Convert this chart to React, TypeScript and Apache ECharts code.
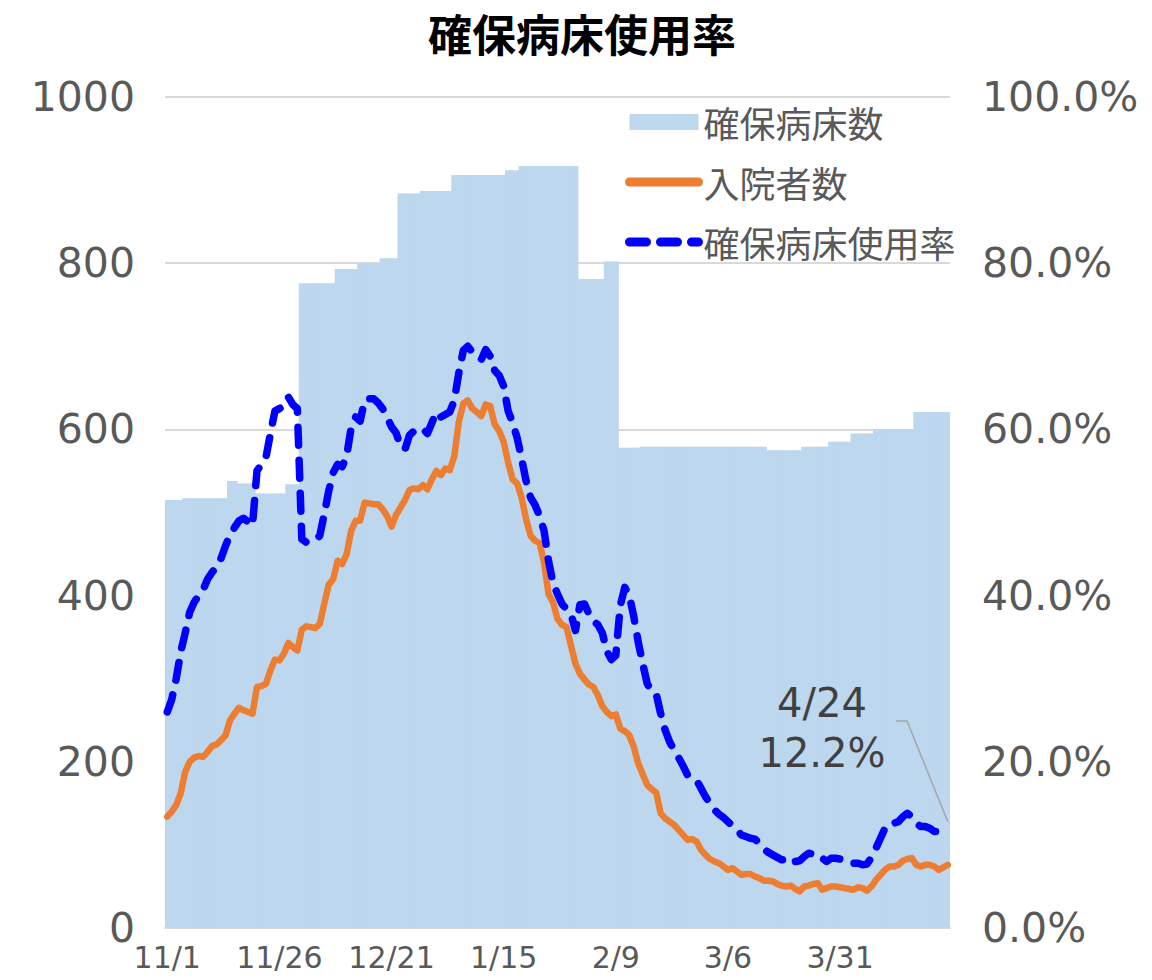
import React, { useEffect, useRef } from "react";
import * as echarts from "echarts";

// Day 0 = 2020-11-01 ; one value per day up to 4/24
const START_Y = 2020;
const START_M = 10; // November (0-based)
const START_D = 1;

const TITLE = "確保病床使用率";
const SERIES_NAMES = ["確保病床数", "入院者数", "確保病床使用率"];

// 確保病床数 (beds secured)
const beds = [
  515, 515, 515, 515, 517, 517, 517, 517, 517, 517,
  517, 517, 517, 517, 538, 538, 535, 535, 535, 535,
  523, 523, 523, 523, 523, 523, 523, 534, 534, 534,
  776, 776, 776, 776, 776, 776, 776, 776, 793, 793,
  793, 793, 793, 800, 800, 800, 800, 800, 806, 806,
  806, 806, 884, 884, 884, 884, 884, 887, 887, 887,
  887, 887, 887, 887, 906, 906, 906, 906, 906, 906,
  906, 906, 906, 906, 906, 906, 912, 912, 912, 917,
  917, 917, 917, 917, 917, 917, 917, 917, 917, 917,
  917, 917, 781, 781, 781, 781, 781, 781, 802, 802,
  802, 578, 578, 578, 578, 578, 579, 579, 579, 579,
  579, 579, 579, 579, 579, 579, 579, 579, 579, 579,
  579, 579, 579, 579, 579, 579, 579, 579, 579, 579,
  579, 579, 579, 579, 575, 575, 575, 575, 575, 575,
  575, 575, 579, 579, 579, 579, 579, 579, 585, 585,
  585, 585, 585, 595, 595, 595, 595, 595, 600, 600,
  600, 600, 600, 600, 600, 600, 600, 621, 621, 621,
  621, 621, 621, 621, 621,
];

// 入院者数 (inpatients)
const inpatients = [
  134, 140, 148, 162, 188, 200, 205, 207, 206, 212,
  219, 221, 226, 232, 250, 258, 265, 262, 260, 258,
  290, 291, 294, 310, 323, 322, 330, 343, 338, 334,
  359, 363, 362, 361, 366, 390, 413, 420, 442, 438,
  450, 478, 490, 490, 512, 511, 510, 510, 504, 496,
  483, 497, 506, 515, 527, 529, 528, 533, 528, 540,
  550, 545, 553, 551, 568, 609, 631, 635, 625, 621,
  616, 630, 628, 606, 598, 585, 560, 540, 535, 518,
  492, 472, 466, 463, 440, 402, 392, 372, 365, 362,
  340, 318, 306, 299, 293, 290, 280, 267, 260, 255,
  257, 240, 237, 232, 218, 198, 185, 172, 167, 163,
  138, 132, 128, 124, 118, 112, 106, 107, 104, 94,
  88, 83, 80, 78, 74, 70, 72, 68, 64, 65,
  65, 62, 60, 57, 57, 56, 53, 51, 50, 51,
  47, 44, 50, 51, 53, 54, 46, 48, 50, 50,
  49, 48, 47, 46, 49, 48, 45, 50, 58, 64,
  70, 74, 74, 76, 81, 83, 84, 76, 74, 76,
  76, 74, 70, 73, 76,
];

// 確保病床使用率 (%)
const usageRate = [
  26.0, 27.5, 30.0, 33.2, 35.5, 38.0, 39.2, 40.0, 40.7, 42.0,
  42.8, 43.5, 44.5, 46.0, 47.3, 48.2, 49.0, 49.3, 48.9, 48.4,
  55.0, 55.8, 56.6, 59.5, 62.2, 62.5, 62.8, 63.9, 63.0, 62.5,
  46.8, 46.4, 46.6, 46.7, 47.2, 49.8, 52.6, 54.8, 55.8, 55.5,
  56.8, 60.2, 61.5, 61.0, 63.5, 63.7, 63.7, 63.2, 62.5, 61.5,
  60.3, 59.6, 58.0, 57.6, 59.3, 59.8, 60.1, 60.1, 59.5, 60.8,
  62.1, 61.5, 61.8, 62.1, 63.5, 66.8, 69.5, 70.0, 69.3, 68.8,
  68.4, 69.6, 68.8, 67.1, 66.5, 65.2, 62.2, 60.8, 59.0, 56.5,
  53.8, 51.8, 50.9, 49.6, 47.8, 44.2, 41.5, 40.2, 39.0, 38.4,
  37.8, 35.8, 38.9, 39.0, 37.8, 36.9, 36.5, 35.5, 33.3, 32.3,
  32.8, 38.8, 41.0, 40.0, 37.5, 34.4, 31.8, 29.4, 28.5, 28.2,
  25.8, 23.8, 22.4, 21.4, 20.5, 19.5, 18.4, 18.0, 17.8, 16.8,
  15.8, 15.0, 14.2, 13.7, 13.3, 12.8, 12.3, 11.8, 11.2, 11.0,
  10.8, 10.7, 10.2, 9.5, 9.1, 8.8, 8.5, 8.2, 8.3, 8.5,
  8.0, 8.1, 8.6, 9.0, 8.9, 8.9, 8.4, 8.0, 8.4, 8.4,
  8.3, 8.2, 8.0, 7.8, 7.8, 7.6, 7.7, 8.5, 9.6, 10.8,
  12.0, 12.6, 12.6, 12.8, 13.4, 13.8, 13.4, 12.6, 12.2, 12.2,
  12.0, 11.6, 11.6, 11.9, 12.2,
];

const categories = inpatients.map((_, i) => {
  const d = new Date(START_Y, START_M, START_D + i);
  return `${d.getMonth() + 1}/${d.getDate()}`;
});

const LABEL_EVERY = 25;
const LEFT_MAX = 1000;
const LEFT_STEP = 200;
const RIGHT_MAX = 100;
const RIGHT_STEP = 20;

const GRAY = "#595959";
const BAR_COLOR = "#bdd7ee";
const ORANGE = "#ed7d31";
const BLUE = "#0000ff";
const NUM_FONT = "'DejaVu Sans', sans-serif";
const CJK_FONT = "'Noto Sans CJK JP', sans-serif";

export default function App() {
  const ref = useRef<HTMLDivElement>(null);

  useEffect(() => {
    if (!ref.current) return;
    const chart = echarts.init(ref.current, undefined, { renderer: "svg" });
    const lastIdx = usageRate.length - 1;

    chart.setOption({
      animation: false,
      backgroundColor: "#ffffff",
      title: {
        text: TITLE,
        left: 423,
        top: 6,
        textStyle: {
          fontFamily: CJK_FONT,
          fontSize: 44,
          fontWeight: "bold",
          color: "#000000",
        },
      },
      legend: {
        orient: "vertical",
        left: 625,
        top: 103,
        padding: 0,
        itemWidth: 69,
        itemHeight: 16,
        itemGap: 22,
        selectedMode: false,
        textStyle: {
          fontFamily: CJK_FONT,
          fontSize: 36,
          lineHeight: 38,
          color: GRAY,
        },
        data: [
          { name: SERIES_NAMES[0], icon: "rect" },
          {
            name: SERIES_NAMES[1],
            itemStyle: { opacity: 0 },
            lineStyle: { width: 9, cap: "round", color: ORANGE },
          },
          {
            name: SERIES_NAMES[2],
            itemStyle: { opacity: 0 },
            lineStyle: { width: 9, cap: "round", color: BLUE, type: [17, 14] },
          },
        ],
      },
      grid: { left: 165, right: 202, top: 97, bottom: 52, containLabel: false },
      xAxis: {
        type: "category",
        data: categories,
        boundaryGap: true,
        axisTick: { show: false },
        axisLine: { show: true, lineStyle: { color: "#d9d9d9", width: 2 } },
        axisLabel: {
          interval: LABEL_EVERY - 1,
          margin: 14,
          fontFamily: NUM_FONT,
          fontSize: 30,
          color: GRAY,
        },
      },
      yAxis: [
        {
          type: "value",
          min: 0,
          max: LEFT_MAX,
          interval: LEFT_STEP,
          axisLine: { show: false },
          axisTick: { show: false },
          splitLine: { lineStyle: { color: "#d9d9d9", width: 2 } },
          axisLabel: {
            margin: 30,
            fontFamily: NUM_FONT,
            fontSize: 41,
            color: GRAY,
            formatter: (v: number) => String(v),
          },
        },
        {
          type: "value",
          min: 0,
          max: RIGHT_MAX,
          interval: RIGHT_STEP,
          axisLine: { show: false },
          axisTick: { show: false },
          splitLine: { show: false },
          axisLabel: {
            margin: 32,
            fontFamily: NUM_FONT,
            fontSize: 41,
            color: GRAY,
            formatter: (v: number) => `${v.toFixed(1)}%`,
          },
        },
      ],
      series: [
        {
          name: SERIES_NAMES[0],
          type: "bar",
          data: beds,
          barWidth: "135%",
          itemStyle: { color: BAR_COLOR },
          z: 1,
        },
        {
          name: SERIES_NAMES[1],
          type: "line",
          data: inpatients,
          symbol: "none",
          lineStyle: { color: ORANGE, width: 6.5, cap: "round", join: "round" },
          itemStyle: { color: ORANGE },
          z: 3,
        },
        {
          name: SERIES_NAMES[2],
          type: "line",
          yAxisIndex: 1,
          data: usageRate,
          symbol: "none",
          lineStyle: {
            color: BLUE,
            width: 7.5,
            type: [18, 15],
            cap: "round",
            join: "round",
          },
          itemStyle: { color: BLUE },
          z: 4,
        },
      ],
    });

    const end = chart.convertToPixel({ seriesIndex: 2 }, [lastIdx, usageRate[lastIdx]]) as number[];
    chart.setOption({
      graphic: [
        {
          type: "text",
          x: 822,
          y: 678,
          style: {
            text: `${categories[lastIdx]}\n${usageRate[lastIdx].toFixed(1)}%`,
            font: `40px ${NUM_FONT}`,
            fill: "#404040",
            align: "center",
            verticalAlign: "top",
            lineHeight: 50,
          },
          z: 10,
        },
        {
          type: "polyline",
          shape: { points: [[896, 721], [907, 721], [end[0], end[1] - 5]] },
          style: { stroke: "#a6a6a6", lineWidth: 1.5, fill: "none" },
          z: 10,
        },
      ],
    });

    return () => chart.dispose();
  }, []);

  return (
    <div
      ref={ref}
      style={{ position: "absolute", left: 0, top: 0, width: 1152, height: 980, background: "#fff" }}
    />
  );
}
